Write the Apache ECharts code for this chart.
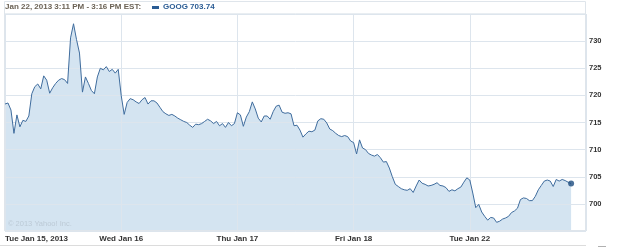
<!DOCTYPE html>
<html>
<head>
<meta charset="utf-8">
<script src="https://cdn.jsdelivr.net/npm/echarts@6/dist/echarts.min.js"></script>
<style>html,body{margin:0;padding:0;background:#fff}#c{width:625px;height:247px}</style>
</head>
<body>
<div id="c"></div>
<script>
// GOOG price, sampled every 10 minutes from 9:30 AM each trading day
const dayLabels = ['Tue Jan 15, 2013', 'Wed Jan 16', 'Thu Jan 17', 'Fri Jan 18', 'Tue Jan 22', ''];
const jan15 = [718.4,718.6,717.3,713.0,716.4,714.2,715.4,715.2,716.2,720.3,721.6,722.1,721.2,723.6,722.8,720.4,721.4,722.2,722.8,723.1,722.9,722.2,730.6,733.2,730.3,727.8,720.6,723.4,722.2,720.9,720.3,723.4,725.0,724.7,725.3,724.4,724.8,724.1,724.8];
const jan16 = [720.0,716.5,718.7,719.4,719.2,718.8,718.5,719.2,719.6,718.4,719.0,719.0,718.6,717.8,717.0,716.6,716.3,716.5,716.2,715.8,715.5,715.2,715.0,714.5,714.1,714.7,714.6,714.8,715.2,715.6,715.3,714.8,715.2,714.4,714.8,714.1,715.0,714.4,714.8];
const jan17 = [716.8,716.4,714.3,716.0,717.0,718.8,717.5,715.8,715.1,716.2,716.2,715.6,717.0,718.0,718.2,716.9,716.7,716.8,716.6,714.4,714.5,713.6,712.3,712.9,713.4,713.3,713.6,715.3,715.7,715.6,714.9,713.8,713.5,713.0,712.6,712.4,712.6,712.4,711.6];
const jan18 = [711.3,709.2,711.8,710.3,710.0,709.3,709.0,708.8,709.1,708.5,707.7,707.8,706.6,705.0,703.6,703.2,702.8,702.6,702.5,702.8,702.1,703.3,704.4,703.8,703.6,703.3,703.4,703.6,703.9,703.4,703.3,703.0,702.3,702.6,702.4,702.8,703.1,704.0,704.8];
const jan22 = [704.4,702.0,699.3,699.9,698.5,697.7,697.0,697.5,697.4,696.6,696.8,697.2,697.4,697.7,698.4,698.7,699.2,700.8,701.1,701.0,700.6,700.6,701.4,702.6,703.4,704.2,704.4,704.2,703.2,704.5,704.2,704.5,704.3,704.0,703.74];
const yTicks = [700, 705, 710, 715, 720, 725, 730];
const lastPrice = 703.74;

const days = [jan15, jan16, jan17, jan18, jan22];
const STEPS_PER_DAY = 78; // 5-minute steps per session
const data = [];
days.forEach((d, i) => d.forEach((v, k) => data.push([i * STEPS_PER_DAY + 2 * k, v])));
const last = data[data.length - 1];

const chart = echarts.init(document.getElementById('c'), null, {renderer: 'canvas'});
chart.setOption({
  animation: false,
  grid: {left: 5, right: 39, top: 14, bottom: 16, show: true, borderColor: '#d3dce5', borderWidth: 1, backgroundColor: 'transparent'},
  xAxis: {
    type: 'value', min: 0, max: 390, interval: 78, z: 3,
    axisLine: {show: false}, axisTick: {show: false},
    splitLine: {show: true, lineStyle: {color: '#dde5ed', width: 1}},
    axisLabel: {
      show: true, margin: 4, color: '#333', fontFamily: 'Liberation Sans', fontWeight: 'bold', fontSize: 8,
      alignMinLabel: 'left', showMaxLabel: false,
      formatter: v => dayLabels[Math.round(v / STEPS_PER_DAY)] || ''
    }
  },
  yAxis: {
    type: 'value', position: 'right', min: 695, max: 735, interval: 5, z: 3,
    axisLine: {show: false}, axisTick: {show: false},
    splitLine: {show: true, lineStyle: {color: '#dde5ed', width: 1}},
    axisLabel: {
      margin: 3, color: '#333', fontFamily: 'Liberation Sans', fontWeight: 'bold', fontSize: 7.5,
      formatter: v => yTicks.includes(v) ? String(v) : ''
    }
  },
  series: [
    {type: 'line', data: data, z: 1, showSymbol: false, symbol: 'none', lineStyle: {width: 0, opacity: 0},
     areaStyle: {color: '#d4e4f1', opacity: 1, origin: 'start'}, silent: true},
    {type: 'line', data: data, z: 5, showSymbol: false, symbol: 'none',
     lineStyle: {color: '#3f6c9d', width: 1}},
    {type: 'scatter', data: [last], z: 6, symbol: 'circle', symbolSize: 6,
     itemStyle: {color: '#1d4c80'}}
  ],
  graphic: [
    {type: 'rect', shape: {x: 4.5, y: 1.5, width: 581, height: 229}, style: {fill: 'none', stroke: '#dfe5eb', lineWidth: 1}, z: 10},
    {type: 'text', left: 5, top: 3, style: {text: 'Jan 22, 2013 3:11 PM - 3:16 PM EST:', fill: '#6b6255', font: 'bold 8px "Liberation Sans"'}, z: 10},
    {type: 'rect', shape: {x: 152, y: 6, width: 7, height: 3}, style: {fill: '#2a5c94'}, z: 10},
    {type: 'text', left: 163, top: 3, style: {text: 'GOOG ' + lastPrice.toFixed(2), fill: '#2a5c94', font: 'bold 8px "Liberation Sans"'}, z: 10},
    {type: 'text', left: 8, top: 220, style: {text: '© 2013 Yahoo! Inc.', fill: '#bccad6', font: '7.5px "Liberation Sans"'}, z: 10},
    {type: 'line', shape: {x1: 0, y1: 245.5, x2: 586, y2: 245.5}, style: {stroke: '#dcdcdc', lineWidth: 1}, z: 10},
    {type: 'line', shape: {x1: 598, y1: 246.5, x2: 606, y2: 246.5}, style: {stroke: '#b0b0b0', lineWidth: 1}, z: 10}
  ]
});
</script>
</body>
</html>
